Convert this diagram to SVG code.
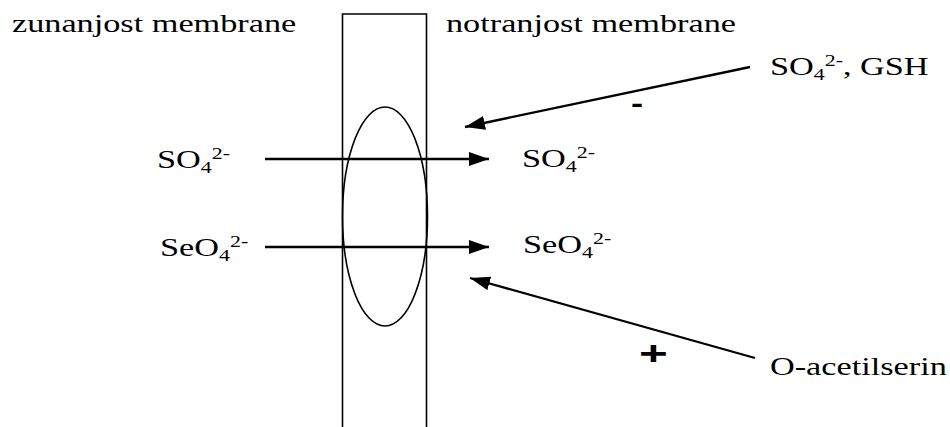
<svg xmlns="http://www.w3.org/2000/svg" width="950" height="427" viewBox="0 0 950 427">
<style>
.t{font-family:'Liberation Serif','Times New Roman',serif;font-size:25px;fill:#000}
.s{font-size:16px}
.sym{font-family:'Liberation Sans',Arial,sans-serif;font-weight:bold;font-size:28px;fill:#000}
.big{font-size:34px}
.ln{stroke:#000;stroke-width:2.3;fill:none}
.mb{stroke:#000;stroke-width:1.6;fill:none}
</style>
<defs>
<marker id="ah" markerUnits="userSpaceOnUse" markerWidth="22" markerHeight="16" refX="20" refY="7" orient="auto">
<path d="M0,0 L20,7 L0,14 z" fill="#000"/>
</marker>
</defs>
<g id="membrane">
<path class="mb" d="M342.5,427 L342.5,14 L426.5,14 L426.5,427"/>
<ellipse class="mb" cx="385" cy="216.5" rx="42.5" ry="109.5"/>
</g>
<g id="labels">
<text class="t" transform="translate(12,32) scale(1.37,1)">zunanjost membrane</text>
<text class="t" transform="translate(446,32) scale(1.37,1)">notranjost membrane</text>
</g>
<g id="so4-out"><text class="t" transform="translate(157,168) scale(1.37,1)">SO<tspan class="s" dy="5">4</tspan><tspan class="s" dy="-14">2-</tspan></text></g>
<g id="seo4-out"><text class="t" transform="translate(160,256) scale(1.37,1)">SeO<tspan class="s" dy="5">4</tspan><tspan class="s" dy="-14">2-</tspan></text></g>
<g id="so4-in"><text class="t" transform="translate(522,167) scale(1.37,1)">SO<tspan class="s" dy="5">4</tspan><tspan class="s" dy="-14">2-</tspan></text></g>
<g id="seo4-in"><text class="t" transform="translate(523,253) scale(1.37,1)">SeO<tspan class="s" dy="5">4</tspan><tspan class="s" dy="-14">2-</tspan></text></g>
<g id="inhibitor"><text class="t" transform="translate(770,75) scale(1.37,1)">SO<tspan class="s" dy="5">4</tspan><tspan class="s" dy="-14">2-</tspan><tspan dy="9">, GSH</tspan></text></g>
<g id="activator"><text class="t" transform="translate(770,375) scale(1.37,1)">O-acetilserin</text></g>
<g id="connectors">
<line class="ln" x1="265" y1="159" x2="489" y2="159" marker-end="url(#ah)"/>
<line class="ln" x1="265" y1="247" x2="489" y2="247" marker-end="url(#ah)"/>
<line class="ln" x1="750" y1="67" x2="465" y2="127" marker-end="url(#ah)"/>
<line class="ln" x1="755" y1="358" x2="470" y2="278" marker-end="url(#ah)"/>
<text class="sym" transform="translate(631,113) scale(1.3,1)">-</text>
<text class="sym big" transform="translate(639,365) scale(1.45,1)">+</text>
</g>
</svg>
